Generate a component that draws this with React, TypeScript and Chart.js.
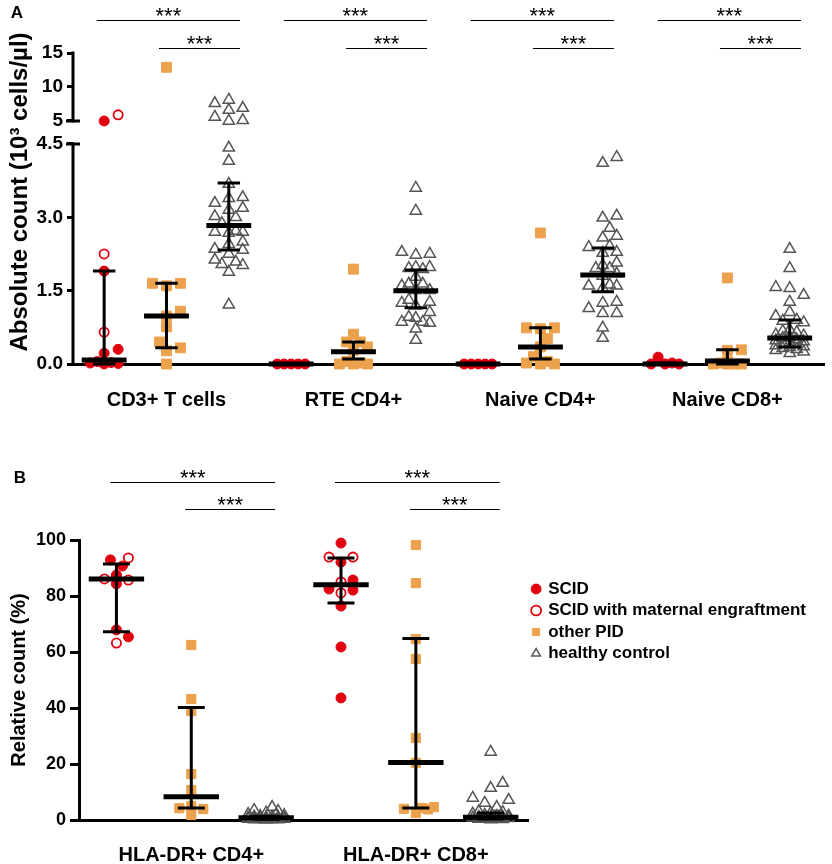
import React, { useEffect, useRef } from 'react';
import { Chart, registerables, LinearScale } from 'chart.js';

Chart.register(...registerables);

const FONT = "'Liberation Sans', Arial, Helvetica, sans-serif";
Chart.defaults.font.family = FONT;
Chart.defaults.color = '#000';

const RED = '#E2000F';
const ORANGE = '#ECA24C';
const GREY = '#555555';

// ---------------- Panel A data (10^3 cells/µl) ----------------
const categoriesA = ['CD3+ T cells', 'RTE CD4+', 'Naive CD4+', 'Naive CD8+'];
const scidA = [
  [5.0, 1.9, 0.3, 0.22, 0.05, 0.03, 0.02, 0.01, 0.0],
  [0.0, 0.0, 0.0, 0.0, 0.0],
  [0.0, 0.0, 0.0, 0.0, 0.0],
  [0.14, 0.02, 0.0, 0.0, 0.0],
];
const scidMatA = [[5.9, 2.25, 0.65], [], [], []];
const otherA = [
  [12.9, 1.65, 1.6, 1.65, 1.08, 0.98, 0.76, 0.45, 0.33, 0.27, 0.0],
  [1.94, 0.61, 0.45, 0.45, 0.35, 0.28, 0.05, 0.02, 0.0, 0.0, 0.0],
  [2.68, 0.74, 0.74, 0.72, 0.52, 0.35, 0.15, 0.05, 0.02, 0.0, 0.0],
  [1.76, 0.29, 0.28, 0.05, 0.02, 0.0, 0.0, 0.0, 0.0],
];
const healthyA = [
  [8.1, 7.6, 6.9, 6.6, 5.6, 5.1, 5.0, 4.42, 4.15, 3.68, 3.41, 3.39, 3.29, 3.19, 3.15, 3.02, 3.0, 2.88, 2.72, 2.7, 2.7, 2.68, 2.5, 2.45, 2.35, 2.33, 2.25, 2.13, 2.09, 2.04, 2.02, 1.88, 1.21],
  [3.6, 3.13, 2.29, 2.25, 2.23, 1.98, 1.98, 1.96, 1.94, 1.78, 1.64, 1.64, 1.6, 1.51, 1.51, 1.31, 1.27, 1.25, 1.19, 1.06, 0.96, 0.94, 0.86, 0.86, 0.84, 0.72, 0.49],
  [4.23, 4.11, 3.03, 2.99, 2.78, 2.62, 2.58, 2.41, 2.39, 2.29, 2.27, 2.07, 2.02, 1.96, 1.96, 1.85, 1.8, 1.62, 1.6, 1.6, 1.55, 1.27, 1.25, 1.14, 1.04, 1.04, 0.74, 0.53],
  [2.35, 1.96, 1.57, 1.55, 1.41, 1.27, 1.06, 0.98, 0.9, 0.88, 0.85, 0.7, 0.67, 0.65, 0.6, 0.58, 0.55, 0.53, 0.5, 0.48, 0.46, 0.44, 0.42, 0.4, 0.38, 0.36, 0.34, 0.32, 0.3, 0.28, 0.25, 0.22],
];
// per category: [SCID, other PID, healthy]
const medianA = [[0.08, 0.98, 2.83], [0.0, 0.25, 1.5], [0.0, 0.35, 1.82], [0.0, 0.06, 0.53]];
const q1A = [[0.0, 0.33, 2.33], [0.0, 0.1, 1.15], [0.0, 0.1, 1.48], [0.0, 0.0, 0.35]];
const q3A = [[1.9, 1.65, 3.7], [0.0, 0.45, 1.92], [0.0, 0.74, 2.37], [0.02, 0.29, 0.9]];
const tickValuesA = [0, 1.5, 3, 4.5, 5, 10, 15];
const tickLabelsA = ['0.0', '1.5', '3.0', '4.5', '5', '10', '15'];

// ---------------- Panel B data (%) ----------------
const categoriesB = ['HLA-DR+ CD4+', 'HLA-DR+ CD8+'];
const scidB = [
  [92.9, 90.7, 87.5, 84.3, 67.9, 65.4],
  [98.9, 92.1, 85.7, 82.5, 82.1, 76.4, 61.8, 43.6],
];
const scidMatB = [
  [93.6, 86.1, 85.7, 63.2],
  [93.9, 93.9, 85.0, 81.1],
];
const otherB = [
  [62.5, 43.2, 38.9, 16.4, 10.7, 5.0, 4.2, 3.9, 1.8],
  [98.2, 84.6, 64.6, 57.5, 29.3, 20.4, 4.6, 4.3, 4.0, 3.8, 2.5],
];
const healthyB = [
  [4.6, 3.5, 3.2, 2.6, 2.1, 1.7, 1.4, 1.2, 1.1, 1.0, 0.9, 0.8, 0.8, 0.7, 0.6, 0.6, 0.5, 0.5, 0.4, 0.4, 0.3, 0.3, 0.2, 0.2, 0.1],
  [24.3, 13.2, 11.4, 7.9, 7.1, 6.1, 4.6, 3.0, 2.8, 2.5, 2.2, 1.8, 1.5, 1.3, 1.1, 1.0, 0.9, 0.8, 0.7, 0.6, 0.5, 0.4, 0.3, 0.2],
];
const medianB = [[86.1, 8.3, 0.8], [84.0, 20.5, 1.0]];
const q1B = [[67.2, 4.3, 0.3], [77.5, 4.3, 0.4]];
const q3B = [[91.4, 40.2, 1.3], [93.6, 64.8, 2.5]];

const seriesLabels = ['SCID', 'SCID with maternal engraftment', 'other PID', 'healthy control'];
const sigLabel = '***';
// significance comparisons per category: from group -> to group, row
const sigPairs = [
  { from: 0, to: 2, row: 0 },
  { from: 1, to: 2, row: 1 },
];

// ---------------- broken y axis for panel A ----------------
const BREAK_LOW = 4.5;
const BREAK_HIGH = 5;
const UPPER_START = 4.97;
const UPPER_SCALE = 0.139;
function fwd(v: number) {
  if (v == null || isNaN(v)) return v;
  if (v <= BREAK_LOW) return v;
  if (v >= BREAK_HIGH) return UPPER_START + (v - BREAK_HIGH) * UPPER_SCALE;
  return BREAK_LOW + ((v - BREAK_LOW) / (BREAK_HIGH - BREAK_LOW)) * (UPPER_START - BREAK_LOW);
}
function inv(t: number) {
  if (t <= BREAK_LOW) return t;
  if (t >= UPPER_START) return BREAK_HIGH + (t - UPPER_START) / UPPER_SCALE;
  return BREAK_LOW + ((t - BREAK_LOW) / (UPPER_START - BREAK_LOW)) * (BREAK_HIGH - BREAK_LOW);
}

class BrokenLinearScale extends (LinearScale as any) {
  static id = 'brokenLinear';
  static defaults = {};
  getPixelForValue(value: number) {
    return super.getPixelForValue(value === null ? null : fwd(value));
  }
  getValueForPixel(pixel: number) {
    return inv(super.getValueForPixel(pixel));
  }
}
Chart.register(BrokenLinearScale as any);

// ---------------- helpers ----------------
function swarmOffsets(values: number[], toPx: (v: number) => number, stepPx: number, maxSteps: number, diam: number) {
  const order = values.map((_, i) => i).sort((a, b) => values[a] - values[b]);
  const cands = [0];
  for (let k = 1; k <= maxSteps; k++) cands.push(k * stepPx, -k * stepPx);
  const placed: { x: number; y: number }[] = [];
  const out = new Array(values.length).fill(0);
  for (const i of order) {
    const py = toPx(values[i]);
    let best = 0;
    let bestD = -1;
    for (const c of cands) {
      let minD = Infinity;
      for (const p of placed) {
        const d = Math.hypot(p.x - c, p.y - py);
        if (d < minD) minD = d;
      }
      if (minD >= diam) {
        best = c;
        break;
      }
      if (minD > bestD + 0.01) {
        bestD = minD;
        best = c;
      }
    }
    placed.push({ x: best, y: py });
    out[i] = best;
  }
  return out;
}

function buildPoints(
  series: { cats: number[][]; sub: number }[],
  nCats: number,
  toPx: (v: number) => number,
  xUnitPx: number,
  stepPx: number,
  maxSteps: number,
  diam: number
) {
  const result = series.map(() => [] as { x: number; y: number }[]);
  for (let c = 0; c < nCats; c++) {
    for (const sub of [0, 1, 2]) {
      const vals: number[] = [];
      const owners: number[] = [];
      series.forEach((s, si) => {
        if (s.sub !== sub) return;
        s.cats[c].forEach((v) => {
          vals.push(v);
          owners.push(si);
        });
      });
      const offs = swarmOffsets(vals, toPx, stepPx, maxSteps, diam);
      vals.forEach((v, k) => result[owners[k]].push({ x: c * 3 + sub + offs[k] / xUnitPx, y: v }));
    }
  }
  return result;
}

function statsLines(med: number[][], q1: number[][], q3: number[][], medHalf: number, capHalf: number) {
  const medPts: any[] = [];
  const iqrPts: any[] = [];
  med.forEach((row, c) =>
    row.forEach((m, sub) => {
      const x = c * 3 + sub;
      medPts.push({ x: x - medHalf, y: m }, { x: x + medHalf, y: m }, { x, y: null });
      const lo = q1[c][sub];
      const hi = q3[c][sub];
      iqrPts.push(
        { x: x - capHalf, y: hi }, { x: x + capHalf, y: hi }, { x, y: null },
        { x, y: hi }, { x, y: lo }, { x, y: null },
        { x: x - capHalf, y: lo }, { x: x + capHalf, y: lo }, { x, y: null }
      );
    })
  );
  return { medPts, iqrPts };
}

function pointDatasets(pts: any[][], sizes: { circle: number; rect: number; tri: number }) {
  return [
    { label: seriesLabels[0], data: pts[0], pointStyle: 'circle', pointRadius: sizes.circle, backgroundColor: RED, borderColor: RED, borderWidth: 1, clip: false },
    { label: seriesLabels[1], data: pts[1], pointStyle: 'circle', pointRadius: sizes.circle - 0.4, backgroundColor: '#FFFFFF', borderColor: RED, borderWidth: 1.8, clip: false },
    { label: seriesLabels[2], data: pts[2], pointStyle: 'rect', pointRadius: sizes.rect, backgroundColor: ORANGE, borderColor: ORANGE, borderWidth: 1, clip: false },
    { label: seriesLabels[3], data: pts[3], pointStyle: 'triangle', pointRadius: sizes.tri, backgroundColor: 'rgba(0,0,0,0)', borderColor: GREY, borderWidth: 1.5, clip: false },
  ];
}

function statDatasets(medPts: any[], iqrPts: any[], medW: number) {
  return [
    { label: '_median', data: medPts, showLine: true, pointRadius: 0, pointHoverRadius: 0, pointHitRadius: 0, borderColor: '#000', borderWidth: medW, borderCapStyle: 'butt', spanGaps: false, clip: false, order: -1 },
    { label: '_iqr', data: iqrPts, showLine: true, pointRadius: 0, pointHoverRadius: 0, pointHitRadius: 0, borderColor: '#000', borderWidth: 3, borderCapStyle: 'butt', spanGaps: false, clip: false, order: -1 },
  ];
}

const annotPlugin = {
  id: 'annot',
  afterDraw(chart: any, _args: any, opts: any) {
    const { ctx, chartArea } = chart;
    const xs = chart.scales.x;
    ctx.save();
    opts.cats.forEach((_: any, c: number) => {
      sigPairs.forEach((p) => {
        const y = Math.round(chartArea.top + opts.topOffset + p.row * opts.rowGap) + 0.5;
        const x1 = xs.getPixelForValue(c * 3 + p.from - opts.extL);
        const x2 = xs.getPixelForValue(c * 3 + p.to + opts.extR);
        ctx.strokeStyle = '#000';
        ctx.lineWidth = 1.2;
        ctx.beginPath();
        ctx.moveTo(x1, y);
        ctx.lineTo(x2, y);
        ctx.stroke();
        ctx.fillStyle = '#000';
        ctx.font = `${opts.starSize}px ${FONT}`;
        ctx.textAlign = 'center';
        ctx.textBaseline = 'alphabetic';
        ctx.fillText(sigLabel, (x1 + x2) / 2, y + opts.starDy);
      });
    });
    ctx.font = `bold 17px ${FONT}`;
    ctx.textAlign = 'center';
    ctx.textBaseline = 'middle';
    ctx.fillStyle = '#000';
    ctx.fillText(opts.panel, opts.panelX, opts.panelY);
    ctx.restore();
  },
};

const brokenAxisPlugin = {
  id: 'brokenAxis',
  beforeDatasetsDraw(chart: any) {
    const { ctx, chartArea } = chart;
    const ys = chart.scales.y;
    const x = chartArea.left;
    const lo = tickValuesA[0];
    const hi = tickValuesA[tickValuesA.length - 1];
    ctx.save();
    ctx.strokeStyle = '#000';
    ctx.lineWidth = 3;
    ctx.lineCap = 'butt';
    ctx.beginPath();
    ctx.moveTo(x, ys.getPixelForValue(lo) + 1.5);
    ctx.lineTo(x, ys.getPixelForValue(BREAK_LOW) - 1.5);
    ctx.moveTo(x, ys.getPixelForValue(BREAK_HIGH) + 1.5);
    ctx.lineTo(x, ys.getPixelForValue(hi) - 1.5);
    ctx.stroke();
    ctx.beginPath();
    [BREAK_LOW, BREAK_HIGH].forEach((v) => {
      const y = ys.getPixelForValue(v);
      ctx.moveTo(x - 7, y);
      ctx.lineTo(x + 7, y);
    });
    ctx.stroke();
    ctx.restore();
  },
};

const legendShiftPlugin = {
  id: 'legendShift',
  afterLayout(chart: any, _args: any, opts: any) {
    const lg = chart.legend;
    if (!lg) return;
    const h = lg.bottom - lg.top;
    lg.top = chart.chartArea.top + opts.offset;
    lg.bottom = lg.top + h;
  },
};

// ---------------- configs ----------------
const A_W = 832;
const A_H = 420;
const B_H = 444;

function configA() {
  const pts = buildPoints(
    [
      { cats: scidA, sub: 0 },
      { cats: scidMatA, sub: 0 },
      { cats: otherA, sub: 1 },
      { cats: healthyA, sub: 2 },
    ],
    categoriesA.length,
    (v) => fwd(v) * 48.9,
    62.5,
    7,
    2,
    10
  );
  const { medPts, iqrPts } = statsLines(medianA, q1A, q3A, 0.36, 0.18);
  return {
    type: 'scatter',
    data: { datasets: [...pointDatasets(pts, { circle: 5, rect: 7, tri: 6.5 }), ...statDatasets(medPts, iqrPts, 5)] },
    options: {
      animation: false,
      responsive: false,
      events: [],
      layout: { padding: { top: 20, right: 5, bottom: 0, left: 0 } },
      plugins: {
        legend: { display: false },
        tooltip: { enabled: false },
        annot: { cats: categoriesA, topOffset: 0, rowGap: 28, extL: 0.12, extR: 0.18, starSize: 22, starDy: 2, panel: 'A', panelX: 17, panelY: 13 },
      },
      scales: {
        x: {
          type: 'linear',
          min: -0.5,
          max: 11.55,
          grid: { display: false, drawTicks: false },
          border: { display: true, color: '#000', width: 3 },
          afterBuildTicks: (s: any) => {
            s.ticks = categoriesA.map((_, i) => ({ value: i * 3 + 1 }));
          },
          afterFit: (s: any) => {
            s.height = 56;
          },
          ticks: {
            autoSkip: false,
            maxRotation: 0,
            padding: 24,
            color: '#000',
            font: { size: 20, weight: 'bold' },
            callback: (v: number) => categoriesA[Math.round((v - 1) / 3)],
          },
        },
        y: {
          type: 'brokenLinear',
          min: 0,
          max: 7.035,
          grid: { display: true, drawOnChartArea: false, drawTicks: true, tickLength: 6, tickWidth: 3, tickColor: '#000' },
          border: { display: false },
          afterBuildTicks: (s: any) => {
            s.ticks = tickValuesA.map((v) => ({ value: v }));
          },
          afterFit: (s: any) => {
            s.width = 73;
          },
          ticks: {
            autoSkip: false,
            padding: 4,
            color: '#000',
            font: { size: 19, weight: 'bold' },
            callback: (v: number) => tickLabelsA[tickValuesA.indexOf(v)],
          },
          title: {
            display: true,
            text: 'Absolute count (10³ cells/µl)',
            color: '#000',
            font: { size: 24, weight: 'bold' },
            padding: { top: 6, bottom: 0 },
          },
        },
      },
    },
    plugins: [annotPlugin, brokenAxisPlugin],
  };
}

function configB() {
  const pts = buildPoints(
    [
      { cats: scidB, sub: 0 },
      { cats: scidMatB, sub: 0 },
      { cats: otherB, sub: 1 },
      { cats: healthyB, sub: 2 },
    ],
    categoriesB.length,
    (v) => v * 2.8,
    75,
    6,
    3,
    10
  );
  const { medPts, iqrPts } = statsLines(medianB, q1B, q3B, 0.37, 0.18);
  return {
    type: 'scatter',
    data: { datasets: [...pointDatasets(pts, { circle: 5, rect: 6.5, tri: 6.5 }), ...statDatasets(medPts, iqrPts, 5)] },
    options: {
      animation: false,
      responsive: false,
      events: [],
      layout: { padding: { top: 120, right: 16, bottom: 0, left: 0 } },
      plugins: {
        legend: {
          display: true,
          position: 'right',
          align: 'start',
          maxWidth: 340,
          labels: {
            usePointStyle: true,
            boxWidth: 7,
            boxHeight: 7,
            padding: 4.5,
            color: '#000',
            font: { size: 17, weight: 'bold' },
            filter: (item: any) => item.datasetIndex < 4,
          },
        },
        legendShift: { offset: 36 },
        tooltip: { enabled: false },
        annot: { cats: categoriesB, topOffset: -58, rowGap: 27, extL: 0.08, extR: 0.12, starSize: 22, starDy: 2, panel: 'B', panelX: 20, panelY: 58 },
      },
      scales: {
        x: {
          type: 'linear',
          min: -0.5,
          max: 5.5,
          grid: { display: false, drawTicks: false },
          border: { display: true, color: '#000', width: 3 },
          afterBuildTicks: (s: any) => {
            s.ticks = categoriesB.map((_, i) => ({ value: i * 3 + 1 }));
          },
          afterFit: (s: any) => {
            s.height = 44;
          },
          ticks: {
            autoSkip: false,
            maxRotation: 0,
            padding: 23,
            color: '#000',
            font: { size: 20, weight: 'bold' },
            callback: (v: number) => categoriesB[Math.round((v - 1) / 3)],
          },
        },
        y: {
          type: 'linear',
          min: 0,
          max: 100,
          grid: { display: true, drawOnChartArea: false, drawTicks: true, tickLength: 9, tickWidth: 3, tickColor: '#000' },
          border: { display: true, color: '#000', width: 3 },
          afterFit: (s: any) => {
            s.width = 79;
          },
          ticks: {
            stepSize: 20,
            padding: 4,
            color: '#000',
            font: { size: 18, weight: 'bold' },
          },
          title: {
            display: true,
            text: 'Relative count (%)',
            color: '#000',
            font: { size: 20, weight: 'bold' },
            padding: { top: 7, bottom: 0 },
          },
        },
      },
    },
    plugins: [annotPlugin, legendShiftPlugin],
  };
}

function ChartCanvas({ make, width, height, top }: { make: () => any; width: number; height: number; top: number }) {
  const ref = useRef<HTMLCanvasElement>(null);
  useEffect(() => {
    if (!ref.current) return;
    const chart = new Chart(ref.current, make());
    return () => chart.destroy();
  }, []);
  return (
    <canvas
      ref={ref}
      width={width}
      height={height}
      style={{ position: 'absolute', left: 0, top, width, height, display: 'block' }}
    />
  );
}

export default function App() {
  return (
    <div style={{ position: 'absolute', left: 0, top: 0, width: 832, height: 864, background: '#fff' }}>
      <ChartCanvas make={configA} width={A_W} height={A_H} top={0} />
      <ChartCanvas make={configB} width={A_W} height={B_H} top={A_H} />
    </div>
  );
}
